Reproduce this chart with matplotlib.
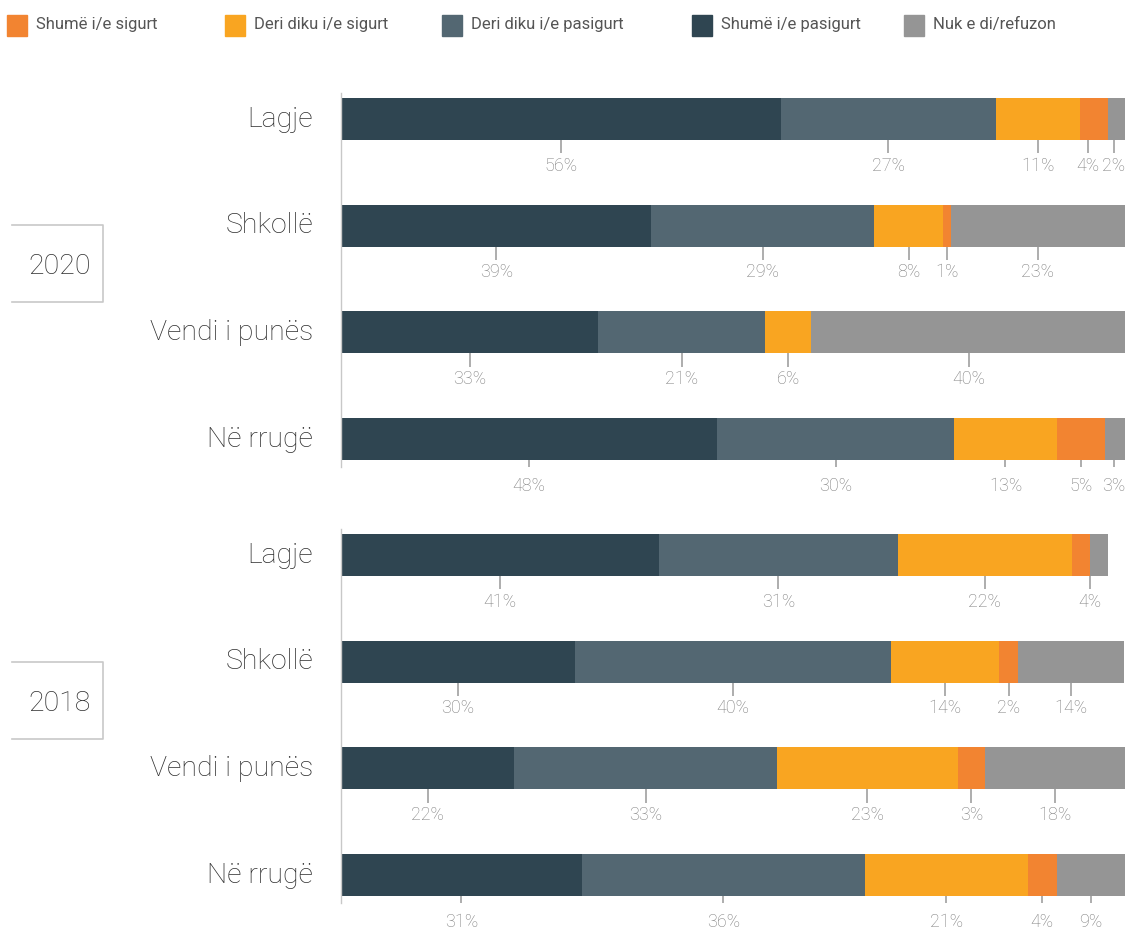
import numpy as np
import matplotlib
matplotlib.use('Agg')
import matplotlib.pyplot as plt
from matplotlib.patches import Rectangle

plt.rcParams['font.family'] = ['Roboto', 'DejaVu Sans']

# series, left to right inside each bar
series = ['Shumë i/e pasigurt', 'Deri diku i/e pasigurt', 'Deri diku i/e sigurt',
          'Shumë i/e sigurt', 'Nuk e di/refuzon']
colors = ['#2f4551', '#536772', '#f9a521', '#f28431', '#959595']

places = ['Lagje', 'Shkollë', 'Vendi i punës', 'Në rrugë']
years = ['2020', '2018']

# segment widths (percent), one row per place
vals_2020 = [
  [56.1, 27.4, 10.7, 3.6, 2.2],
  [39.6, 28.4, 8.8, 1.0, 22.2],
  [32.8, 21.3, 5.9, 0.0, 40.1],
  [48.0, 30.2, 13.1, 6.1, 2.6],
]
vals_2018 = [
  [40.6, 30.4, 22.2, 2.3, 2.3],
  [29.8, 40.3, 13.8, 2.5, 13.5],
  [22.1, 33.5, 23.1, 3.4, 17.9],
  [30.7, 36.1, 20.8, 3.7, 8.7],
]
# printed labels; None = joined with the segment before it, '' = no label
labels_2020 = [
  ['56%', '27%', '11%', '4%', '2%'],
  ['39%', '29%', '8%', '1%', '23%'],
  ['33%', '21%', '6%', '', '40%'],
  ['48%', '30%', '13%', '5%', '3%'],
]
labels_2018 = [
  ['41%', '31%', '22%', '4%', None],
  ['30%', '40%', '14%', '2%', '14%'],
  ['22%', '33%', '23%', '3%', '18%'],
  ['31%', '36%', '21%', '4%', '9%'],
]

W, H = 1136, 930
fig = plt.figure(figsize=(W/100, H/100), dpi=100)

bar_h = 0.394
lab_col = '#7c7c7c'
txt_col = '#2e2e2e'

def group(top_px, vals, labels, year, box_top):
  bottom_px = top_px + 374
  ax = fig.add_axes([341/W, 1 - bottom_px/H, 784/W, 374/H])
  for i, row in enumerate(vals):
    left = 0
    pos = []
    for j, v in enumerate(row):
      if v > 0:
        ax.barh(i, v, left=left, height=bar_h, color=colors[j], linewidth=0)
      if labels[i][j] is None:
        pos[-1][1] = (pos[-1][1] - pos[-1][2] / 2 + (pos[-1][2] + v) / 2)
        pos[-1][2] += v
      elif labels[i][j] != '':
        pos.append([labels[i][j], left + v / 2, v])
      left += v
    # keep labels apart and inside the bar
    xs = [p[1] for p in pos]
    xs[-1] = min(xs[-1], 98.6)
    for k in range(len(xs) - 2, -1, -1):
      xs[k] = min(xs[k], xs[k + 1] - 3.3)
    yb = i + bar_h / 2
    for p, x in zip(pos, xs):
      ax.plot([x, x], [yb, yb + 0.125], color='#a0a0a0', lw=1.2,
              solid_capstyle='butt')
      ax.text(x, yb + 0.24, p[0], ha='center', va='center', fontsize=13,
              color=lab_col, fontweight='light')
    ax.text(-28 / 7.84, i, places[i], ha='right', va='center', fontsize=20.5,
            color=txt_col, fontweight='light')
  ax.set_xlim(0, 100)
  ax.set_ylim(3.2625, -0.244)
  for s in ['top', 'right', 'bottom']:
    ax.spines[s].set_visible(False)
  ax.spines['left'].set_color('#c8c8c8')
  ax.spines['left'].set_linewidth(1)
  ax.set_xticks([])
  ax.set_yticks([])
  ax.patch.set_alpha(0)

  # year box, open on the left
  x0, x1 = 12 / W, 103 / W
  y0, y1 = 1 - box_top / H, 1 - (box_top + 77) / H
  fig.add_artist(plt.Line2D([x0, x1, x1, x0], [y0, y0, y1, y1],
                            color='#c8c8c8', lw=1.2))
  fig.text((x0 + x1) / 2 + 2 / W, (y0 + y1) / 2 - 3 / H, year, ha='center',
           va='center', fontsize=20.5, color=txt_col, fontweight='light')

group(93, vals_2020, labels_2020, years[0], 225)
group(529, vals_2018, labels_2018, years[1], 662)

# legend across the top
leg_order = [3, 2, 1, 0, 4]
leg_x = [7, 225, 442, 692, 904]
for k, x in zip(leg_order, leg_x):
  fig.add_artist(Rectangle((x / W, 1 - 36 / H), 20 / W, 21 / H,
                           color=colors[k], transform=fig.transFigure))
  fig.text((x + 29) / W, 1 - 25 / H, series[k], ha='left', va='center',
           fontsize=12, color='#555555')

plt.savefig('out.png', dpi=100)
